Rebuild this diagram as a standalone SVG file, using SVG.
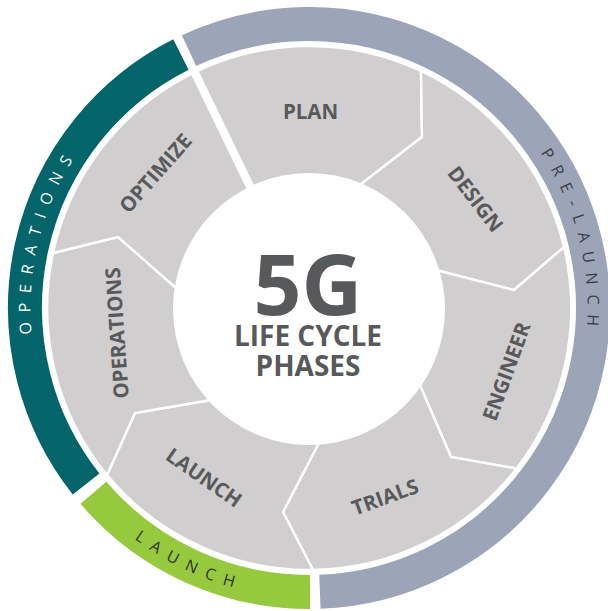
<svg xmlns="http://www.w3.org/2000/svg" width="608" height="611" viewBox="0 0 608 611">
<style>
.seg{fill:#D0CECF;stroke:#FFFFFF;stroke-width:2.4;stroke-linejoin:round}
.lbl{font-family:"Open Sans","Liberation Sans",sans-serif;font-weight:700;font-size:20.5px;fill:#58595B;text-anchor:middle}
.ring{fill:none;stroke-width:34;stroke-linecap:butt}
.rtxt{font-family:"Open Sans","Liberation Sans",sans-serif;font-weight:400;font-size:16px;letter-spacing:9.4px;text-anchor:middle}
.ctr{font-family:"Open Sans","Liberation Sans",sans-serif;font-weight:700;fill:#58595B;text-anchor:middle}
</style>
<defs>
<path id="p-ops" d="M58.0,428.8 A278.6,278.6 0 0 1 146.4,81.7"/>
<path id="p-pre" d="M472.1,82.2 A278.6,278.6 0 0 1 559.7,429.5"/>
<path id="p-lau" d="M46.3,429.4 A289.4,289.4 0 0 0 382.9,587.8"/>
</defs>
<rect width="608" height="611" fill="#FFFFFF"/>
<g id="phase-prelaunch">
<path class="ring" stroke="#9CA5B8" d="M189.0,50.6 A284,284 0 1 1 319.9,591.8"/>
<text class="rtxt" fill="#3A3E47"><textPath href="#p-pre" startOffset="50%">PRE-LAUNCH</textPath></text>
</g>
<g id="phase-launch">
<path class="ring" stroke="#96C93D" d="M310.0,592.0 A284,284 0 0 1 93.4,492.8"/>
<text class="rtxt" fill="#333333"><textPath href="#p-lau" startOffset="50%">LAUNCH</textPath></text>
</g>
<g id="phase-operations">
<path class="ring" stroke="#03646A" d="M86.1,484.0 A284,284 0 0 1 180.9,54.5"/>
<text class="rtxt" fill="#FFFFFF"><textPath href="#p-ops" startOffset="50%">OPERATIONS</textPath></text>
</g>
<g id="connectors"></g>
<g id="step-plan">
<path class="seg" d="M197.3,71.0 A262.5,262.5 0 0 1 421,71 L422,137 L352,191 L257.1,194.2 Z"/>
<text class="lbl" transform="translate(310.5,111.5)" y="7.3">PLAN</text>
</g>
<g id="step-design">
<path class="seg" d="M421,71 A262.5,262.5 0 0 1 564,247 L514,290 L430,268.5 L352,191 L422,137 Z"/>
<text class="lbl" transform="translate(475.5,199) rotate(52.5)" y="7.3">DESIGN</text>
</g>
<g id="step-engineer">
<path class="seg" d="M564,247 A262.5,262.5 0 0 1 516.5,468.5 L451,457 L416,376 L430,268.5 L514,290 Z"/>
<text class="lbl" transform="translate(506.5,371.5) rotate(-70)" y="7.3">ENGINEER</text>
</g>
<g id="step-trials">
<path class="seg" d="M516.5,468.5 A262.5,262.5 0 0 1 313,570 L283,512 L322,437 L416,376 L451,457 Z"/>
<text class="lbl" transform="translate(385,497) rotate(-20)" y="7.3">TRIALS</text>
</g>
<g id="step-launch">
<path class="seg" d="M313,570 A262.5,262.5 0 0 1 107,475 L135,413 L217,399 L322,437 L283,512 Z"/>
<text class="lbl" transform="translate(204,477.5) rotate(35)" y="7.3">LAUNCH</text>
</g>
<g id="step-operations">
<path class="seg" d="M107,475 A262.5,262.5 0 0 1 53,253 L118,237 L184,295 L217,399 L135,413 Z"/>
<text class="lbl" transform="translate(117,333) rotate(-94)" y="7.3">OPERATIONS</text>
</g>
<g id="step-optimize">
<path class="seg" d="M53,253 A262.5,262.5 0 0 1 191.9,73.6 L251.7,196.8 L184,295 L118,237 Z"/>
<text class="lbl" transform="translate(155.5,173.3) rotate(-48.5)" y="7.3">OPTIMIZE</text>
</g>
<g id="center">
<circle cx="309" cy="309" r="136" fill="#FFFFFF"/>
<text class="ctr" x="308" y="315" font-size="84">5G</text>
<text class="ctr" x="308" y="345.5" font-size="28">LIFE CYCLE</text>
<text class="ctr" x="308" y="375.5" font-size="28">PHASES</text>
</g>
</svg>
